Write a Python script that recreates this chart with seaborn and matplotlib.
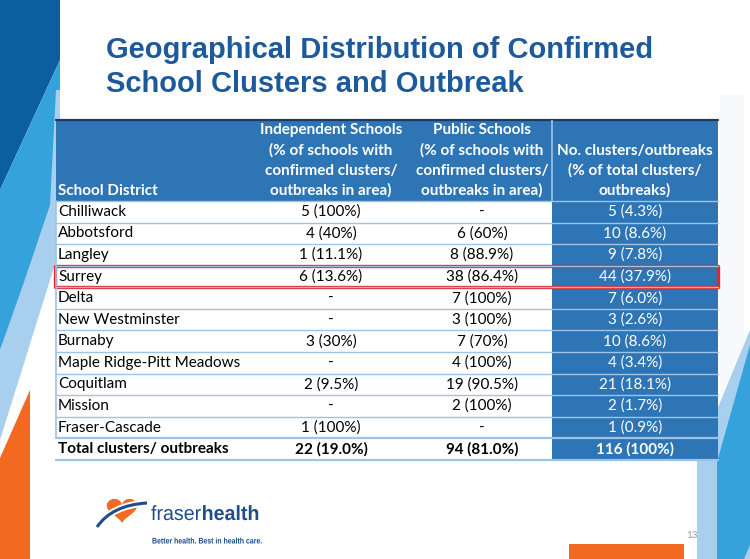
import numpy as np
import pandas as pd
import matplotlib
matplotlib.use("Agg")
import matplotlib.pyplot as plt
from matplotlib.colors import ListedColormap
from matplotlib.patches import Polygon, Rectangle, PathPatch
from matplotlib.path import Path
from matplotlib.textpath import TextPath
from matplotlib.font_manager import FontProperties
from matplotlib.transforms import Affine2D
import seaborn as sns

# --- table content -------------------------------------------------------
districts = ["Chilliwack", "Abbotsford", "Langley", "Surrey", "Delta",
             "New Westminster", "Burnaby", "Maple Ridge-Pitt Meadows",
             "Coquitlam", "Mission", "Fraser-Cascade"]
independent = ["5 (100%)", "4 (40%)", "1 (11.1%)", "6 (13.6%)", "-", "-",
               "3 (30%)", "-", "2 (9.5%)", "-", "1 (100%)"]
public = ["-", "6 (60%)", "8 (88.9%)", "38 (86.4%)", "7 (100%)", "3 (100%)",
          "7 (70%)", "4 (100%)", "19 (90.5%)", "2 (100%)", "-"]
clusters = ["5 (4.3%)", "10 (8.6%)", "9 (7.8%)", "44 (37.9%)", "7 (6.0%)",
            "3 (2.6%)", "10 (8.6%)", "4 (3.4%)", "21 (18.1%)", "2 (1.7%)",
            "1 (0.9%)"]
total_row = ["Total clusters/ outbreaks", "22 (19.0%)", "94 (81.0%)", "116 (100%)"]
headers = [
    ["School District"],
    ["Independent Schools", "(% of schools with", "confirmed clusters/", "outbreaks in area)"],
    ["Public Schools", "(% of schools with", "confirmed clusters/", "outbreaks in area)"],
    ["No. clusters/outbreaks", "(% of total clusters/", "outbreaks)"],
]
highlight = "Surrey"
title_lines = ["Geographical Distribution of Confirmed", "School Clusters and Outbreak"]

BLUE = "#2e75b6"
LINE = "#9dc3e6"
TFONT = ["Lato", "DejaVu Sans"]
FS = 11

sns.set_theme(style="white")
plt.rcParams["font.family"] = TFONT

fig = plt.figure(figsize=(7.5, 5.59), dpi=100)

# --- slide background decoration ---------------------------------------
bg = fig.add_axes([0, 0, 1, 1])
bg.set_xlim(0, 750)
bg.set_ylim(559, 0)
bg.axis("off")
bg.add_patch(Rectangle((720, 95), 24, 300, color="#f8f9fb", lw=0))
bg.add_patch(Polygon([(0, 0), (60, 0), (60, 60), (0, 190)], color="#0b5f9e", lw=0))
bg.add_patch(Polygon([(0, 190), (60, 60), (60, 200), (0, 350)], color="#36a2db", lw=0))
bg.add_patch(Polygon([(56, 90), (60, 90), (60, 248), (0, 440), (0, 350),
                      (24, 282), (50, 205)], color="#a9cfee", lw=0))
bg.add_patch(Polygon([(0, 458), (30, 390), (30, 559), (0, 559)], color="#f26a22", lw=0))
bg.add_patch(Polygon([(750, 330), (697, 458), (697, 559), (750, 559)], color="#a9cfee", lw=0))
bg.add_patch(Polygon([(750, 345), (717, 462), (717, 559), (744, 559), (750, 545)],
                     color="#36a2db", lw=0))
bg.add_patch(Rectangle((569, 544), 115, 15, color="#f26a22", lw=0))
bg.text(692, 536, "13", color="#9a9a9a", fontsize=7, ha="center", va="center")

# title
for i, line in enumerate(title_lines):
    bg.text(106, 58 + 34 * i, line, color="#1c5a9c", fontsize=21, fontweight="bold",
            family=["Liberation Sans", "DejaVu Sans"], va="baseline", ha="left")

# logo: heart + swoosh
t = np.linspace(0, 2 * np.pi, 200)
hx = 16 * np.sin(t) ** 3
hy = 13 * np.cos(t) - 5 * np.cos(2 * t) - 2 * np.cos(3 * t) - np.cos(4 * t)
bg.add_patch(Polygon(np.column_stack([122 + hx * 0.95, 509 - hy * 0.85]),
                     color="#f26a22", lw=0))
swoosh = Path([(97, 527), (112, 505), (147, 503)],
              [Path.MOVETO, Path.CURVE3, Path.CURVE3])
bg.add_patch(PathPatch(swoosh, fc="none", ec="white", lw=5))
bg.add_patch(PathPatch(swoosh, fc="none", ec="#1d4d8b", lw=2.2))


def condensed_text(parts, x0, base, size, width):
    paths = [TextPath((0, 0), s, size=size,
                      prop=FontProperties(family="Liberation Sans", weight=w))
             for s, w in parts]
    advances = [p.get_extents().x1 + size * 0.04 for p in paths]
    sx = width / sum(advances)
    x = x0
    for p, adv in zip(paths, advances):
        tr = Affine2D().scale(sx, -1).translate(x, base)
        bg.add_patch(PathPatch(tr.transform_path(p), fc="#1d4d8b", lw=0))
        x += adv * sx


condensed_text([("fraser", "normal"), ("health", "bold")], 151, 520, 20.5, 108)
condensed_text([("Better health. Best in health care.", "bold")], 152, 543.5, 8.2, 110)

# --- table via heatmap ----------------------------------------------------
col_units = [97, 81, 70, 83]          # column widths (1 unit = 2 px)
edges = np.concatenate([[0], np.cumsum(col_units)])
n_body = len(districts) + 1
head_u, row_u = 15, 4
n_rows = head_u + row_u * n_body

fill = np.zeros((n_rows, edges[-1]))
fill[:head_u, :] = 1
fill[head_u:, edges[3]:] = 1
fill_df = pd.DataFrame(fill)

ax = fig.add_axes([56 / 750, (559 - 460) / 559, 662 / 750, 340 / 559])
sns.heatmap(fill_df, cmap=ListedColormap(["white", BLUE]), vmin=0, vmax=1,
            cbar=False, xticklabels=False, yticklabels=False, ax=ax)
ax.set_xlabel("")
ax.set_ylabel("")

# header text
line_gap = 3.72
for c, lines in enumerate(headers):
    n = len(lines)
    for k, txt in enumerate(lines):
        y = head_u - 1.9 - (n - 1 - k) * line_gap
        if c == 0:
            ax.text(1, y, txt, color="white", fontweight="bold", fontsize=FS,
                    ha="left", va="center")
        else:
            ax.text((edges[c] + edges[c + 1]) / 2, y, txt, color="white",
                    fontweight="bold", fontsize=FS, ha="center", va="center")

# body rows
rows = list(zip(districts, independent, public, clusters)) + [tuple(total_row)]
for i, row in enumerate(rows):
    y = head_u + row_u * i + row_u / 2
    bold = "bold" if i == n_body - 1 else "normal"
    ax.text(1, y, row[0], color="black", fontsize=FS, fontweight=bold,
            ha="left", va="center")
    for c in range(1, 4):
        ax.text((edges[c] + edges[c + 1]) / 2, y, row[c],
                color="white" if c == 3 else "black", fontsize=FS,
                fontweight=bold, ha="center", va="center")

# grid lines
ax.plot([0, edges[-1]], [0, 0], color="#1f3864", lw=1.6, clip_on=False)
for i in range(n_body + 1):
    y = head_u + row_u * i
    lw = 1.6 if i >= n_body - 1 else 1.0
    ax.plot([0, edges[-1]], [y, y], color=LINE, lw=lw, clip_on=False)
ax.plot([0, 0], [head_u, head_u + row_u * (n_body - 1)], color=LINE, lw=1.2, clip_on=False)
ax.plot([edges[3], edges[3]], [0, head_u], color=LINE, lw=1.2)

# highlighted row
hi = districts.index(highlight)
ax.add_patch(Rectangle((-0.6, head_u + row_u * hi), edges[-1] + 0.6, row_u,
                       fill=False, ec="#e3262b", lw=2.4, clip_on=False,
                       joinstyle="round"))
for s in ax.spines.values():
    s.set_visible(False)

fig.savefig("out.png", dpi=100)
